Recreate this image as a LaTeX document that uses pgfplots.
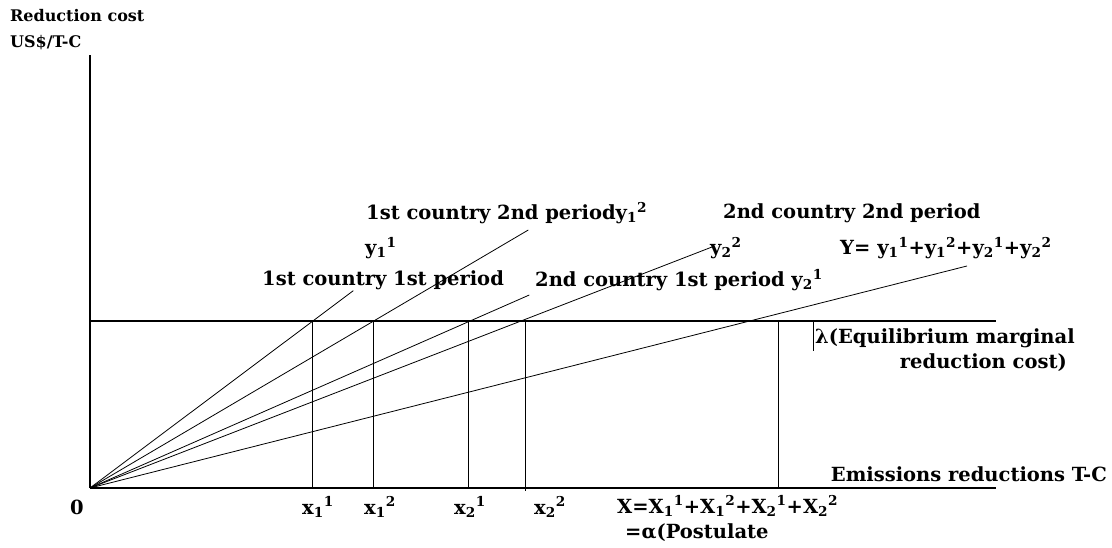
\documentclass[border=0pt]{standalone}
\usepackage{fontspec}
\setmainfont{DejaVu Serif}
\usepackage{pgfplots}
\pgfplotsset{compat=1.18}
\tikzset{
 lbl/.style={font=\fontsize{19.5}{23}\selectfont\bfseries, inner sep=0pt},
 sml/.style={font=\fontsize{16}{19}\selectfont\bfseries, inner sep=0pt},
}
\begin{document}
\begin{tikzpicture}
\begin{axis}[
 x=1pt, y=1pt,
 xmin=0, xmax=906, ymin=0, ymax=433,
 axis lines=left, axis line style={-, line width=1.6pt},
 ticks=none, clip=false,
]
% rays from origin
\addplot[black, line width=0.8pt] coordinates {(0,0) (263.3,197.3)};
\addplot[black, line width=0.8pt] coordinates {(0,0) (438.3,258)};
\addplot[black, line width=0.8pt] coordinates {(0,0) (439.3,193)};
\addplot[black, line width=0.8pt] coordinates {(0,0) (622,241)};
\addplot[black, line width=0.8pt] coordinates {(0,0) (877,222)};
% lambda line
\addplot[black, line width=1.3pt] coordinates {(0,167) (906,167)};
% verticals
\addplot[black, line width=0.8pt] coordinates {(222.3,0) (222.3,167)};
\addplot[black, line width=0.8pt] coordinates {(283.3,0) (283.3,167)};
\addplot[black, line width=0.8pt] coordinates {(378.3,0) (378.3,167)};
\addplot[black, line width=0.8pt] coordinates {(435,-3) (435,167)};
\addplot[black, line width=0.8pt] coordinates {(688.3,0) (688.3,167)};
\addplot[black, line width=0.8pt] coordinates {(723.3,137) (723.3,167)};
% bounding box
\path (axis cs:-90,-60) rectangle (axis cs:1022,488);
% labels
\node[sml, anchor=base west] at (axis cs:-80,466) {Reduction cost};
\node[sml, anchor=base west] at (axis cs:-80,440) {US\$/T-C};
\node[lbl] at (axis cs:-13,-19) {0};
\node[lbl] at (axis cs:228,-19) {x\textsubscript{1}\textsuperscript{1}};
\node[lbl] at (axis cs:290,-19) {x\textsubscript{1}\textsuperscript{2}};
\node[lbl] at (axis cs:380,-19) {x\textsubscript{2}\textsuperscript{1}};
\node[lbl] at (axis cs:460,-19) {x\textsubscript{2}\textsuperscript{2}};
\node[lbl, anchor=west] at (axis cs:527,-18) {X=X\textsubscript{1}\textsuperscript{1}+X\textsubscript{1}\textsuperscript{2}+X\textsubscript{2}\textsuperscript{1}+X\textsubscript{2}\textsuperscript{2}};
\node[lbl, anchor=west] at (axis cs:535,-45) {=α(Postulate};
\node[lbl, anchor=east] at (axis cs:1017,14) {Emissions reductions T-C};
\node[lbl, anchor=west] at (axis cs:725,150) {λ(Equilibrium marginal};
\node[lbl, anchor=east] at (axis cs:977,125) {reduction cost)};
\node[lbl, anchor=west] at (axis cs:172,208) {1st country 1st period};
\node[lbl, anchor=west] at (axis cs:275,240) {y\textsubscript{1}\textsuperscript{1}};
\node[lbl, anchor=west] at (axis cs:276,275) {1st country 2nd periody\textsubscript{1}\textsuperscript{2}};
\node[lbl, anchor=west] at (axis cs:445,208) {2nd country 1st period y\textsubscript{2}\textsuperscript{1}};
\node[lbl, anchor=west] at (axis cs:633,275) {2nd country 2nd period};
\node[lbl, anchor=west] at (axis cs:620,240) {y\textsubscript{2}\textsuperscript{2}};
\node[lbl, anchor=west] at (axis cs:750,240) {Y= y\textsubscript{1}\textsuperscript{1}+y\textsubscript{1}\textsuperscript{2}+y\textsubscript{2}\textsuperscript{1}+y\textsubscript{2}\textsuperscript{2}};
\end{axis}
\end{tikzpicture}
\end{document}
